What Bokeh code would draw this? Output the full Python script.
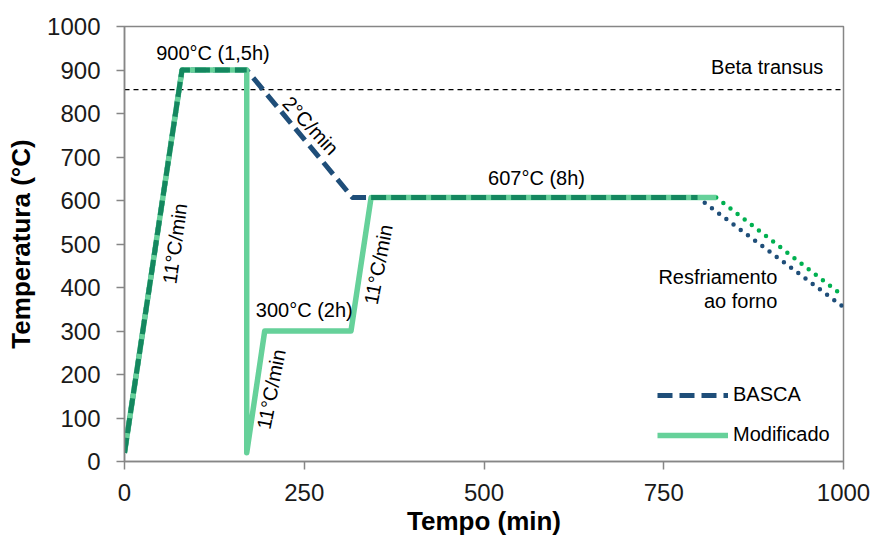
from bokeh.plotting import figure
from bokeh.models import Range1d, FixedTicker, Legend, LegendItem, ColumnDataSource
from bokeh.core.properties import value
from bokeh.embed import file_html
from bokeh.resources import INLINE

# ---- data (time in min, temperature in °C) ----
basca_t = [0, 80, 170, 317, 797]
basca_T = [20, 900, 900, 607, 607]

mod_t = [0, 80, 170, 170, 195, 315, 343, 823]
mod_T = [20, 900, 900, 20, 300, 300, 607, 607]

shared_ramp_t = [0, 80, 170]
shared_ramp_T = [20, 900, 900]
shared_hold_t = [343, 797]
shared_hold_T = [607, 607]

basca_cool_t = [797, 1000]
basca_cool_T = [607, 355]
mod_cool_t = [823, 1000]
mod_cool_T = [607, 380]

beta_transus = 855

x_ticks = [0, 250, 500, 750, 1000]
y_ticks = [0, 100, 200, 300, 400, 500, 600, 700, 800, 900, 1000]

labels = ["900°C (1,5h)", "2°C/min", "11°C/min", "300°C (2h)", "11°C/min",
          "11°C/min", "607°C (8h)"]
label_x = [123, 259, 70, 250, 204, 353, 573]
label_y = [940, 772, 501, 349, 166, 453, 651]
label_angle = [0, -47, 82, 0, 79, 79, 0]

FONT = "Liberation Sans"
BLUE = "#1F4E79"
LIGHT = "#66D19A"
DARK = "#14875F"
DOTGREEN = "#00B050"

p = figure(width=875, height=542, x_range=Range1d(0, 1000), y_range=Range1d(0, 1000),
           output_backend="svg", toolbar_location=None,
           min_border_left=124, min_border_right=32, min_border_top=26, min_border_bottom=81)
p.background_fill_color = "white"
p.border_fill_color = "white"
p.grid.visible = False
p.outline_line_color = "#868686"
p.outline_line_width = 1.5

for ax in (p.xaxis[0], p.yaxis[0]):
    ax.axis_line_color = "#868686"
    ax.axis_line_width = 1.5
    ax.major_tick_line_color = "#868686"
    ax.major_tick_line_width = 1.5
    ax.major_tick_in = 0
    ax.major_tick_out = 8
    ax.minor_tick_line_color = None
    ax.major_label_text_font = FONT
    ax.major_label_text_font_size = "24px"
    ax.major_label_text_color = "#1a1a1a"
    ax.axis_label_text_font = FONT
    ax.axis_label_text_font_size = "26px"
    ax.axis_label_text_font_style = "bold"
    ax.axis_label_text_color = "#000000"

p.xaxis.ticker = FixedTicker(ticks=x_ticks)
p.yaxis.ticker = FixedTicker(ticks=y_ticks)
p.xaxis.axis_label = "Tempo (min)"
p.yaxis.axis_label = "Temperatura (°C)"
p.xaxis.major_label_standoff = 14
p.yaxis.major_label_standoff = 16
p.xaxis.axis_label_standoff = 2
p.yaxis.axis_label_standoff = 8

# beta transus
p.line([0, 1000], [beta_transus, beta_transus], line_color="black", line_width=1.3, line_dash="5 4")

# cooling (dotted)
p.line(basca_cool_t, basca_cool_T, line_color=BLUE, line_width=4.5, line_dash="0 9", line_cap="round")
p.line(mod_cool_t, mod_cool_T, line_color=DOTGREEN, line_width=4.5, line_dash="0 9", line_cap="round")

# main lines
r_basca = p.line(basca_t, basca_T, line_color=BLUE, line_width=5, line_dash="15 7", line_join="round")
r_mod = p.line(mod_t, mod_T, line_color=LIGHT, line_width=5.5, line_join="round")
p.line(shared_ramp_t, shared_ramp_T, line_color=DARK, line_width=5, line_dash="15 5", line_join="round")
p.line(shared_hold_t, shared_hold_T, line_color=DARK, line_width=5, line_dash="15 5")

# annotations
src = ColumnDataSource(dict(x=label_x, y=label_y, text=labels, angle=label_angle))
p.text(x="x", y="y", text="text", angle="angle", angle_units="deg", source=src,
       text_font=value(FONT), text_font_size="20px", text_align="center",
       text_baseline="middle", text_color="#000000")
p.text(x=[972], y=[908], text=["Beta transus"], text_font=value(FONT), text_font_size="20px",
       text_align="right", text_baseline="middle", text_color="#000000")
p.text(x=[908, 908], y=[423, 370], text=["Resfriamento", "ao forno"], text_font=value(FONT),
       text_font_size="20px", text_align="right", text_baseline="middle", text_color="#000000")

legend = Legend(items=[LegendItem(label="BASCA", renderers=[r_basca]),
                       LegendItem(label="Modificado", renderers=[r_mod])],
                location=(533, 15))
legend.border_line_color = None
legend.background_fill_alpha = 0
legend.padding = 0
legend.margin = 0
legend.glyph_width = 71
legend.glyph_height = 20
legend.label_height = 20
legend.spacing = 17
legend.label_standoff = 5
legend.label_text_font = FONT
legend.label_text_font_size = "20px"
legend.label_text_color = "#000000"
p.add_layout(legend, "center")

open("out.html", "w").write(file_html(p, INLINE))
